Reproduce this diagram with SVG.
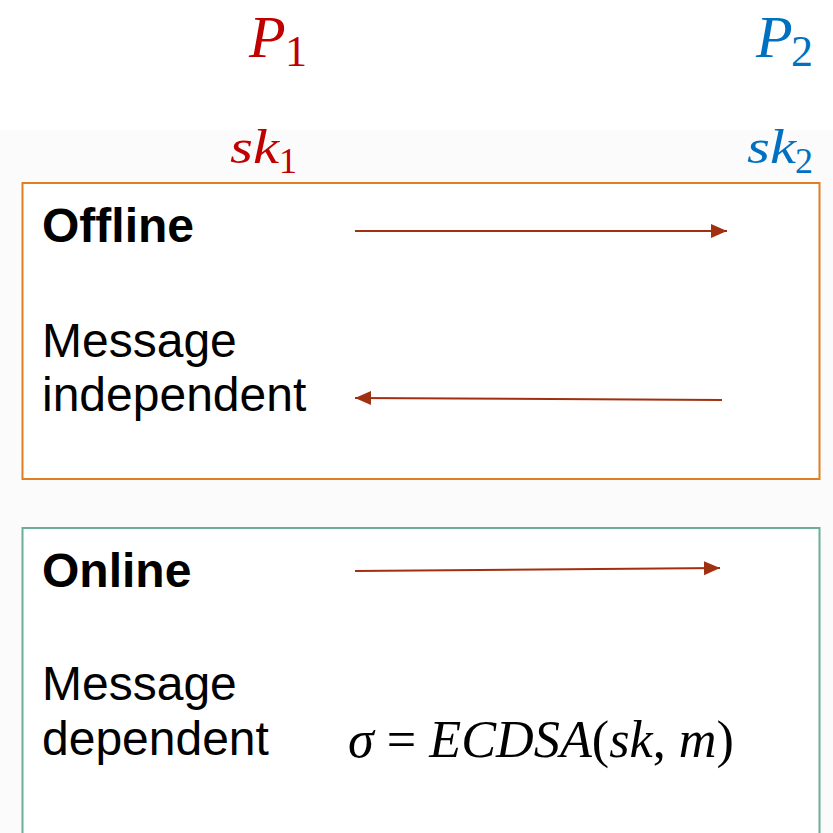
<svg xmlns="http://www.w3.org/2000/svg" width="833" height="833" viewBox="0 0 833 833">
  <style>
    .label { font-family: "Liberation Sans", Arial, sans-serif; font-size: 48px; fill: #000; }
    .bold { font-weight: bold; }
    .math { font-family: "Liberation Serif", "Times New Roman", serif; font-style: italic; }
    .up { font-style: normal; }
    .red { fill: #c00000; }
    .blue { fill: #0070c0; }
    .msg { fill: none; stroke: #a0300f; stroke-width: 2; marker-end: url(#head); }
  </style>
  <defs>
    <marker id="head" markerWidth="18" markerHeight="16" refX="16" refY="8" orient="auto" markerUnits="userSpaceOnUse">
      <path d="M0,1 L16,8 L0,15 Z" fill="#a0300f"/>
    </marker>
  </defs>

  <!-- page background -->
  <rect x="0" y="0" width="833" height="833" fill="#fbfbfb"/>
  <rect x="0" y="0" width="833" height="130" fill="#ffffff"/>

  <!-- parties -->
  <g id="party-p1">
    <text class="math red" x="249" y="57" font-size="60">P<tspan class="up" x="285" y="66" font-size="44">1</tspan></text>
    <text class="math red" y="163" font-size="48"><tspan x="230" textLength="49" lengthAdjust="spacingAndGlyphs">sk</tspan><tspan class="up" x="279" y="173" font-size="36">1</tspan></text>
  </g>
  <g id="party-p2">
    <text class="math blue" x="756" y="57" font-size="60">P<tspan class="up" x="791" y="66" font-size="44">2</tspan></text>
    <text class="math blue" y="163" font-size="48"><tspan x="747" textLength="49" lengthAdjust="spacingAndGlyphs">sk</tspan><tspan class="up" x="795" y="173" font-size="36">2</tspan></text>
  </g>

  <!-- offline phase -->
  <g id="offline">
    <rect x="22.5" y="183" width="797" height="296" fill="#ffffff" stroke="#e07f22" stroke-width="2"/>
    <text class="label bold" x="42" y="242">Offline</text>
    <text class="label" x="42" y="357">Message</text>
    <text class="label" x="42" y="411">independent</text>
  </g>

  <!-- online phase -->
  <g id="online">
    <rect x="22.5" y="528" width="797" height="320" fill="#ffffff" stroke="#6aae97" stroke-width="2"/>
    <text class="label bold" x="42" y="587">Online</text>
    <text class="label" x="42" y="700">Message</text>
    <text class="label" x="42" y="755">dependent</text>
    <text class="math" x="348" y="757" font-size="52" textLength="386" lengthAdjust="spacingAndGlyphs">σ <tspan class="up">=</tspan> ECDSA<tspan class="up">(</tspan>sk<tspan class="up">,</tspan> m<tspan class="up">)</tspan></text>
  </g>

  <!-- messages between the parties -->
  <g id="connectors">
    <path class="msg" d="M355,231 L727,231"/>
    <path class="msg" d="M722,400 L355,398"/>
    <path class="msg" d="M355,571 L720,568"/>
  </g>
</svg>
